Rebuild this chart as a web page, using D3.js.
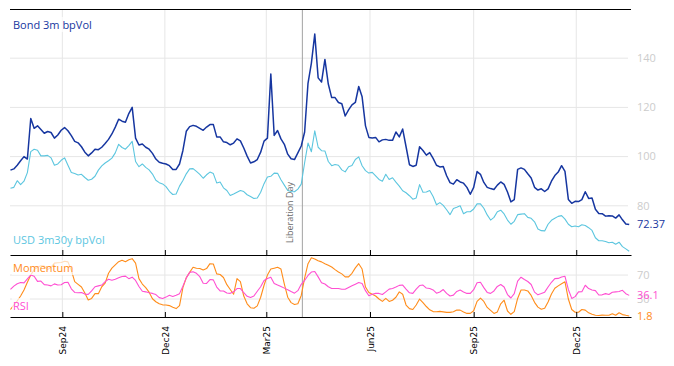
<!DOCTYPE html>
<html><head><meta charset="utf-8">
<script src="https://cdn.jsdelivr.net/npm/d3@7"></script>
<style>body{margin:0;background:#fff}svg{display:block}</style>
</head><body><svg id="c" width="674" height="366"></svg>
<script>
// ---- data (one value every 3 calendar days from startDate) ----
const startDate = "2024-07-17";
const stepDays = 3;
const bondVol = [94.5,95,96.5,98.3,100,99,115.5,111.5,112.5,111,
109.5,110.2,109.8,107.5,108.8,110.7,111.8,110.5,108.5,106.2,
105.6,104,101.8,100.3,101.5,103,102.8,103.8,105.3,107,
109.2,112,115.2,114.4,114,117.5,120,107.5,104.7,105.1,
103.8,103,101.3,99,97.7,97.3,97,96.3,94.8,94.8,
97,102.5,110.3,112.2,112.7,112.3,111.5,110.7,112,113,
113,108,108,106,105.7,104.8,105.5,107.2,106.4,103.5,
100.2,97.4,97.9,98.8,101.8,106.3,107.5,133.6,108.6,110.6,
107.2,105,101,99.1,98.8,101.5,104.3,110,129.8,138,
149.8,132,130.3,139.5,129.5,124,124,122,121.5,116.5,
119,121,122,128.5,124.3,112.5,107.8,107.6,107.8,106,
106.8,107,106.6,106.6,110,108,111.2,104,96.7,96,
96.5,104,102.5,100.6,101.6,99.3,96.5,95.8,96,92.2,
89.4,88.8,90.6,89.7,89.2,87.5,84.7,87.5,93.9,92.8,
89.5,87.5,87,86.6,88.4,89.7,88.7,85.6,81.6,82.5,
94.8,95.4,94.8,93,91.3,87.5,86.4,86.9,85.8,86.9,
90,92.3,93.7,96.3,94,82.6,81,81.8,81.7,82.5,
85.7,83,83.2,78.6,76.9,76.8,75.8,76,75.9,75,
76.3,74.3,72.6,72.37];
const usdVol = [87.1,87.5,90.2,88.6,90,93.5,102,103,102.6,100.3,
100.3,100.5,99.5,96.5,97,98.5,99.5,96.5,93.5,93.1,
92.5,92.8,91.5,90.4,90.8,92,94.5,96.2,97.4,98.3,
99.4,101.5,105,103.7,103,104.5,106.2,98,95.9,97,
95.6,94.6,92.9,90.4,89.4,88.9,87.8,85.9,84.6,84.8,
88,90.3,93,95,95.1,94,92.8,91.2,92.6,93.7,
93.1,89.3,89.7,87.3,86.2,84.2,84.8,85.5,86.2,85.8,
84.5,83.8,83,83.2,85.5,89,91.7,92,93.3,93.2,
90.6,88.4,86.2,85.8,85.7,86.8,88.8,97.5,105.5,102,
110.5,103.8,102.4,102.3,98,96.3,96.8,96.5,94.6,93.8,
95.9,96.4,98.8,99.9,96.3,94.3,93.3,93.6,92.2,90.7,
90,92.8,90.7,91.4,89.6,88,86.1,85.3,84.1,82.7,
83.2,88.6,85.5,85.6,86.2,83.8,80.4,81.3,80.2,78.4,
76.4,78.9,79.4,80,76.8,77.6,77.6,78.7,80.8,80.8,
79,76.3,74.2,75.3,77.6,78.2,76.7,74.2,72.5,73.7,
76.4,76.6,76.8,75.3,74.9,73.5,70.6,69.9,69.8,72.5,
74.1,74.9,75.7,76,74.6,72.5,71.5,71.8,71.5,72.3,
72,71.1,70,67,65.8,65.8,65.5,65,65.2,64.4,
65.2,63.4,62.5,61.5];
const momentum = [12.5,20,27,35,45,58,70,79,83,85.5,
85,79,83,90,90.5,91,93,92,78,59,
54.5,50,40,28.5,31,39,39,50.5,56.5,73,
81.5,87,92.3,94.7,92.3,95.4,97.4,90,64,55,
49,41.5,30.5,25.5,22.2,20.3,20,19,16.3,14,
19,49,65.5,74.5,83,81.3,81,78.5,80.8,89,
88.5,72,71,66,54,46,38,64,59,35,
22,15.5,14.6,18.5,33,53,70,80,81.5,83,
80,55,33,24,21,22,36,65,89,99,
97,94,92,89,86.4,83.5,79,75,72,67,
67,73,82,89,80,50,41,38,35,30,
26,31,26,28,33,42,38,20,14,12.5,
20,30,24,17.5,12,9,8.8,9.4,8.5,7.7,
7.7,8.8,11.7,11.5,8.5,6,6,10.5,26,31.5,
26,16,11,6,8.5,22,28,10,4.5,9,
31,45,45,43.5,36,24.5,16.5,13,14.6,25,
38.5,48,52,55.5,58.8,30,12.5,8,8,12.5,
11.5,7,4.5,3,2.5,3.2,3,3,5.5,3,
7,4,2.8,1.8];
const rsi = [46,51.5,55.5,57.5,57,63.5,70,68,59.5,60,
54,53.5,52,55.3,53.3,53.8,57.5,58,47,41,
40.5,40.8,38.2,37.8,43.5,50.5,52,53.3,59,63,
61.5,63,65.5,67.7,68.2,64,66.5,61,51,43,
42,40.5,39.4,37.4,32.3,31,33.2,36.2,34.3,36.2,
39,51.5,65.3,74.5,75.5,73,67.3,56.3,56,62.5,
62,50,43.5,43.5,40,39.5,42,47.5,47.5,40.5,
34.5,32.5,35,43,50.5,61,64.4,66.5,56,53.3,
51,48.2,45.5,42.5,39.8,44,54.5,61,69.3,75,
76,67,57.3,55,50.5,47.7,47.7,47.7,46.3,46.3,
49.2,52,54.8,57.6,56,44,35.5,38,39.4,39.4,
37.5,42,46.5,47.7,50,52.8,53.3,46.7,40.4,39.4,
46.5,52.5,53.3,48.3,47.7,45.2,39.7,41.8,45.8,39.5,
35,36.5,42.7,44.9,41.8,39.4,39.4,45.5,57.3,58,
49,41,39.4,43.5,51,54.2,50,37.4,31.7,39,
60,66.4,62.6,59.3,54.2,41.5,37,39.1,41.5,50,
58,64,64.4,66.8,68,46,31,34,42,42.3,
53,47.4,45,44,36.7,37,39,37.5,41.2,42,
42.5,44.5,39,36.1];
const tickDates = ["2024-09-01","2024-12-01","2025-03-01","2025-06-01","2025-09-01","2025-12-01"];
const topTicks = [80,100,120,140];
const bottomTicks = [30,70];
const eventDate = "2025-04-02";
const eventLabel = "Liberation Day";
const seriesNames = {bond:"Bond 3m bpVol", usd:"USD 3m30y bpVol", mom:"Momentum", rsi:"RSI"};
const colors = {bond:"#1636a0", usd:"#5cc6df", mom:"#ff8c1a", rsi:"#ff4fd2", grid:"#e6e6e6", axisLbl:"#cccccc", event:"#a3a3a3"};

// ---- layout ----
const L = 10, R = 631, T = 9, M = 255, B = 317;
const FONT = "'Open Sans', sans-serif";
const svg = d3.select("#c");
const parse = d3.utcParse("%Y-%m-%d");
const start = parse(startDate);
const dates = bondVol.map((_, i) => d3.utcDay.offset(start, i * stepDays));
const ticks = tickDates.map(parse);

const x = d3.scaleUtc()
  .domain([new Date(Date.UTC(2024, 6, 16, 14)), new Date(Date.UTC(2026, 0, 18, 14))])
  .range([L, R]);
const yTop = d3.scaleLinear().domain([60, 160]).range([M, T]);
const yBot = d3.scaleLinear().domain([0, 103.5]).range([B, M]);

// grid
const g = svg.append("g");
g.selectAll(".vg").data(ticks).join("line")
  .attr("x1", d => x(d)).attr("x2", d => x(d)).attr("y1", T).attr("y2", B)
  .attr("stroke", colors.grid).attr("stroke-width", 1);
g.selectAll(".hgt").data(topTicks).join("line")
  .attr("x1", L).attr("x2", 628).attr("y1", d => yTop(d)).attr("y2", d => yTop(d))
  .attr("stroke", colors.grid);
g.selectAll(".hgb").data(bottomTicks).join("line")
  .attr("x1", L).attr("x2", 628).attr("y1", d => yBot(d)).attr("y2", d => yBot(d))
  .attr("stroke", colors.grid);

// event line
const ex = x(parse(eventDate));
svg.append("line").attr("x1", ex).attr("x2", ex).attr("y1", T).attr("y2", B)
  .attr("stroke", colors.event).attr("stroke-width", 1);

// series
function drawLine(vals, y, color, w) {
  const line = d3.line().x((d, i) => x(dates[i])).y(d => y(d));
  svg.append("path").datum(vals).attr("d", line)
    .attr("fill", "none").attr("stroke", color).attr("stroke-width", w)
    .attr("stroke-linejoin", "round");
}
drawLine(usdVol, yTop, colors.usd, 1.1);
drawLine(bondVol, yTop, colors.bond, 1.5);
drawLine(momentum, yBot, colors.mom, 1.1);
drawLine(rsi, yBot, colors.rsi, 1.1);

// event label
svg.append("text").attr("transform", `translate(${ex - 9},243) rotate(-90)`)
  .attr("font-family", FONT).attr("font-size", 9).attr("fill", "#6b6b6b")
  .text(eventLabel);

// series labels with soft halo
function label(txt, xPos, yPos, color) {
  const t = svg.append("text").attr("x", xPos).attr("y", yPos)
    .attr("font-family", FONT).attr("font-size", 11).attr("fill", color).text(txt);
  const bb = t.node().getBBox();
  svg.insert("rect", () => t.node())
    .attr("x", bb.x - 1).attr("y", bb.y).attr("width", bb.width + 2).attr("height", bb.height)
    .attr("fill", "#fff").attr("opacity", 0.7);
}
label(seriesNames.bond, 13, 29, colors.bond);
label(seriesNames.usd, 13, 244, colors.usd);
label(seriesNames.mom, 13, 272, colors.mom);
label(seriesNames.rsi, 13, 310, colors.rsi);

// axes
svg.append("line").attr("x1", L).attr("x2", R).attr("y1", T + 0.5).attr("y2", T + 0.5).attr("stroke", "#000");
const axTop = svg.append("g").attr("transform", `translate(0,${M})`)
  .call(d3.axisTop(x).tickValues(ticks).tickSize(5).tickSizeOuter(0).tickFormat(""));
const axBot = svg.append("g").attr("transform", `translate(0,${B})`)
  .call(d3.axisTop(x).tickValues(ticks).tickSize(5).tickSizeOuter(0).tickFormat(""));
[axTop, axBot].forEach(a => a.selectAll("path,line").attr("stroke", "#000"));
const axLbl = svg.append("g").attr("transform", `translate(0,${B})`)
  .call(d3.axisBottom(x).tickValues(ticks).tickSize(0).tickFormat(d3.utcFormat("%b%y")));
axLbl.select(".domain").remove();
axLbl.selectAll("text")
  .attr("transform", "rotate(-90)").attr("x", -9).attr("y", 0).attr("dy", "0.35em")
  .attr("text-anchor", "end").attr("fill", "#000")
  .attr("font-family", "'DejaVu Sans', sans-serif").attr("font-size", 9);

// right labels
const RX = 637;
svg.selectAll(".rt").data(topTicks).join("text")
  .attr("x", RX).attr("y", d => yTop(d)).attr("dy", "0.35em")
  .attr("font-family", FONT).attr("font-size", 11).attr("fill", colors.axisLbl).text(d => d);
svg.selectAll(".rb").data(bottomTicks).join("text")
  .attr("x", RX).attr("y", d => yBot(d)).attr("dy", "0.35em")
  .attr("font-family", FONT).attr("font-size", 11).attr("fill", colors.axisLbl).text(d => d);
const lastB = bondVol[bondVol.length - 1], lastR = rsi[rsi.length - 1], lastM = momentum[momentum.length - 1];
svg.append("text").attr("x", RX).attr("y", yTop(lastB)).attr("dy", "0.35em")
  .attr("font-family", FONT).attr("font-size", 11).attr("fill", colors.bond).text(lastB.toFixed(2));
svg.append("text").attr("x", RX).attr("y", yBot(lastR)).attr("dy", "0.35em")
  .attr("font-family", FONT).attr("font-size", 11).attr("fill", colors.rsi).text(lastR.toFixed(1));
svg.append("text").attr("x", RX).attr("y", yBot(lastM)).attr("dy", "0.35em")
  .attr("font-family", FONT).attr("font-size", 11).attr("fill", colors.mom).text(lastM.toFixed(1));
</script></body></html>
